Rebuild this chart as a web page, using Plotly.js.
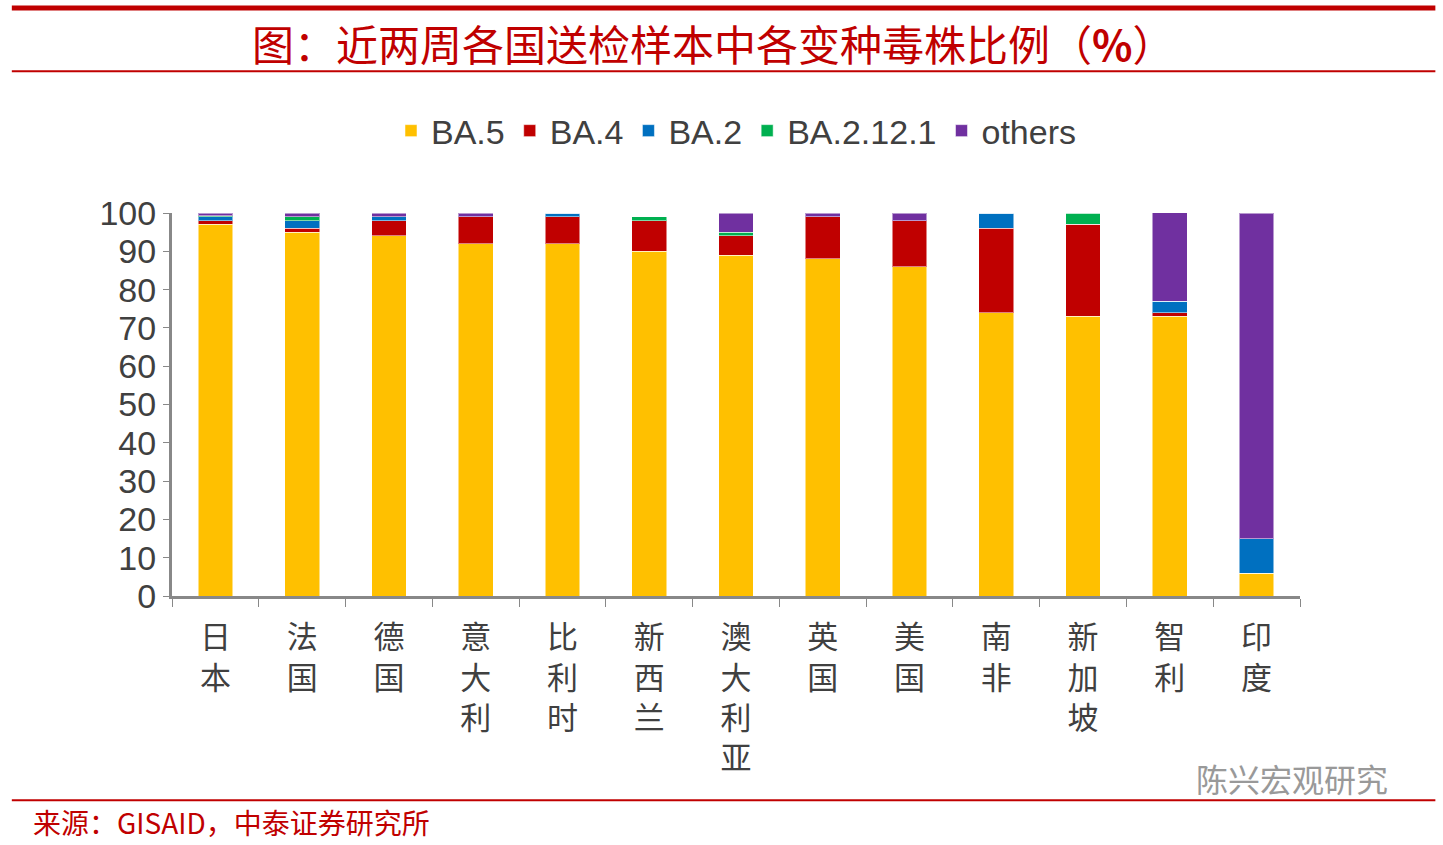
<!DOCTYPE html>
<html><head><meta charset="utf-8">
<script src="https://cdn.plot.ly/plotly-3.0.1.min.js"></script>
<style>body{margin:0;background:#fff}</style>
</head><body>
<div id="chart" style="width:1443px;height:845px"></div>
<script>
let countries=["日本","法国","德国","意大利","比利时","新西兰","澳大利亚","英国","美国","南非","新加坡","智利","印度"]
let ba5=[97,95,94,92,92,90,89,88,86,74,73,73,6]
let ba4=[1,1,4,7,7,8,5,11,12,22,24,1,0]
let ba2=[1,2,1,0,1,0,0,0,0,4,0,3,9]
let ba2121=[0.3,1,0,0,0,1,1,0,0,0,3,0,0]
let others=[0.7,1,1,1,0.5,0,5,1,2,0,0,23.3,85]

let labels=countries.map(c=>c.split("").join("<br>"))

let series=[
["BA.5",ba5,"#ffc000"],
["BA.4",ba4,"#c00000"],
["BA.2",ba2,"#0070c0"],
["BA.2.12.1",ba2121,"#00b050"],
["others",others,"#7030a0"]
]

let traces=series.map(s=>({
type:"bar",name:s[0],x:labels,y:s[1],
marker:{color:s[2],line:{color:"rgba(255,255,255,0.5)",width:1}},
width:0.4
}))

let font={family:"Liberation Sans, Arial",color:"#404040"}

Plotly.newPlot("chart",traces,{
barmode:"stack",
width:1443,height:845,
margin:{l:172,r:143,t:213,b:249},
paper_bgcolor:"#fff",plot_bgcolor:"#fff",
showlegend:true,
legend:{orientation:"h",x:0.5,xanchor:"center",y:1.214,yanchor:"middle",font:{size:34,family:font.family,color:"#404040"},itemwidth:30,entrywidth:0,traceorder:"normal"},
xaxis:{tickfont:{size:31,family:"Noto Sans CJK SC",color:"#404040"},ticks:"outside",ticklen:8,tickcolor:"#888",showline:true,linecolor:"#888",linewidth:3,
 ticklabelstandoff:12,tickson:"boundaries",range:[-0.5,12.5]},
yaxis:{range:[0,100],dtick:10,tickfont:{size:34,family:font.family,color:"#404040"},showline:true,linecolor:"#888",linewidth:3,ticks:"outside",ticklen:6,tickcolor:"#888",showgrid:false,zeroline:false},
shapes:[
{type:"line",xref:"paper",yref:"paper",x0:-0.142,x1:1.12,y0:1.535,y1:1.535,line:{color:"#c00000",width:5}},
{type:"line",xref:"paper",yref:"paper",x0:-0.142,x1:1.12,y0:1.37,y1:1.37,line:{color:"#c00000",width:2}},
{type:"line",xref:"paper",yref:"paper",x0:-0.142,x1:1.12,y0:-0.533,y1:-0.533,line:{color:"#c00000",width:2}}
],
annotations:[
{text:"图：近两周各国送检样本中各变种毒株比例（<b>%</b>）",xref:"paper",yref:"paper",x:0.48,y:1.446,yanchor:"middle",showarrow:false,font:{size:42,family:"Noto Sans CJK SC",color:"#c00000"}},
{text:"来源：GISAID，中泰证券研究所",xref:"paper",yref:"paper",x:-0.125,xanchor:"left",y:-0.59,yanchor:"middle",showarrow:false,font:{size:28,family:"Noto Sans CJK SC",color:"#c00000"}},
{text:"陈兴宏观研究",xref:"paper",yref:"paper",x:1.08,xanchor:"right",y:-0.475,yanchor:"middle",showarrow:false,font:{size:32,family:"Noto Sans CJK SC",color:"#999"}}
]
},{displayModeBar:false})
</script>
</body></html>
